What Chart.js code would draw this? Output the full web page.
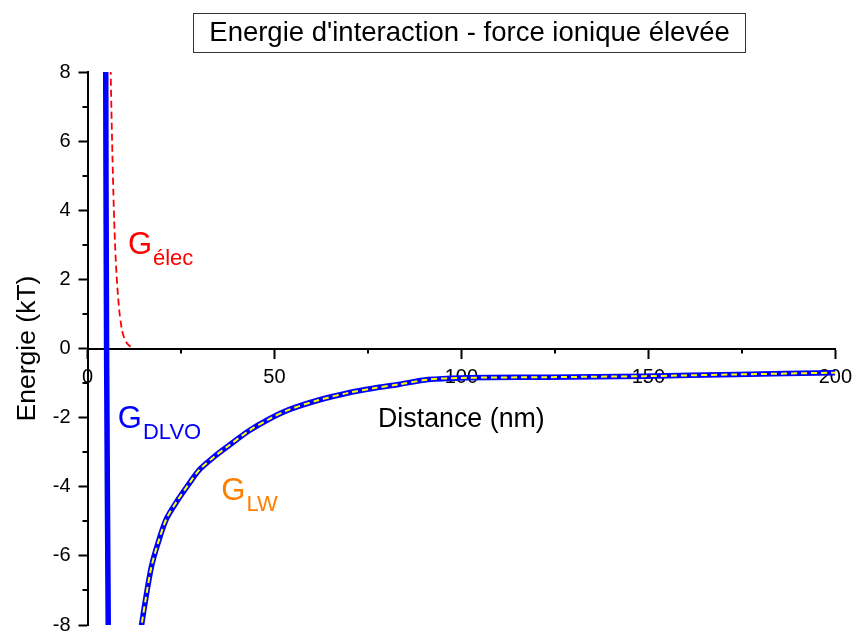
<!DOCTYPE html>
<html>
<head>
<meta charset="utf-8">
<script src="https://cdn.jsdelivr.net/npm/chart.js@4"></script>
<style>
  html, body { margin: 0; padding: 0; background: #fff; }
</style>
</head>
<body>
<canvas id="chart" width="860" height="635"></canvas>
<script>
const FONT = '"Liberation Sans", Arial, sans-serif';

// G_elec, red dashed
const elecDistance = [6.0, 6.2, 6.6, 7.05, 7.45, 7.85, 8.25, 8.65, 9.3, 10.0, 11.0, 12.1];
const elecEnergy   = [9.4, 8.0, 5.9, 4.0, 2.8, 2.0, 1.4, 0.95, 0.5, 0.26, 0.1, 0.03];

// G_DLVO, repulsive wall (the minimum itself is off the chart)
const wallDistance = [4.85, 5.1, 5.6];
const wallEnergy   = [9.0, 0.0, -9.0];

// G_DLVO, attractive branch after the minimum
const dlvoDistance = [13.9, 14.4, 15.6, 17.1, 18.8, 21.1, 24.1, 27.3, 29.9, 33.9, 37.9, 43.2, 48.6, 53.9,
                      61.9, 69.9, 76.5, 83.2, 91.1, 99.9, 123.1, 148.9, 173.6, 200];
const dlvoEnergy   = [-8.5, -8.05, -7.22, -6.31, -5.65, -4.93, -4.39, -3.89, -3.51, -3.13, -2.80, -2.38, -2.04, -1.77,
                      -1.49, -1.28, -1.15, -1.04, -0.90, -0.85, -0.83, -0.80, -0.75, -0.70];

// G_LW, lies on top of the DLVO branch
const lwDistance = [13.9, 14.4, 15.6, 17.1, 18.8, 21.1, 24.1, 27.3, 29.9, 33.9, 37.9, 43.2, 48.6, 53.9,
                    61.9, 69.9, 76.5, 83.2, 91.1, 99.9, 123.1, 148.9, 173.6, 200];
const lwEnergy   = [-8.5, -8.05, -7.22, -6.31, -5.65, -4.93, -4.39, -3.89, -3.51, -3.13, -2.80, -2.38, -2.04, -1.77,
                    -1.49, -1.28, -1.15, -1.04, -0.90, -0.85, -0.83, -0.80, -0.75, -0.70];

const xTicks = [0, 50, 100, 150, 200];
const yTicks = [-8, -6, -4, -2, 0, 2, 4, 6, 8];
const xMinor = [25, 75, 125, 175];
const yMinor = [-7, -5, -3, -1, 1, 3, 5, 7];

const pts = (xs, ys) => xs.map((x, i) => ({ x: x, y: ys[i] }));

const dlvoData = pts(wallDistance, wallEnergy)
  .concat([{ x: 9, y: null }])
  .concat(pts(dlvoDistance, dlvoEnergy));

// curve names, anchored in data units
const curveLabels = [
  { main: 'G', sub: '\u00e9lec', x: 10.8, y: 2.72, color: '#ff0000' },
  { main: 'G', sub: 'DLVO', x: 8.1, y: -2.29, color: '#0000ff' },
  { main: 'G', sub: 'LW', x: 35.8, y: -4.38, color: '#ff8000' }
];

const titleBox = {
  id: 'titleBox',
  afterDraw(chart) {
    const ctx = chart.ctx;
    ctx.save();
    ctx.strokeStyle = '#333';
    ctx.lineWidth = 1;
    ctx.strokeRect(193.5, 13.5, 552, 39);
    ctx.fillStyle = '#000';
    ctx.font = '27.5px ' + FONT;
    ctx.textAlign = 'center';
    ctx.textBaseline = 'middle';
    ctx.fillText("Energie d'interaction - force ionique \u00e9lev\u00e9e", 469.5, 33);
    ctx.restore();
  }
};

const minorTicks = {
  id: 'minorTicks',
  afterDraw(chart) {
    const { ctx, scales: { x, y } } = chart;
    const x0 = x.getPixelForValue(0);
    const y0 = y.getPixelForValue(0);
    ctx.save();
    ctx.strokeStyle = '#000';
    ctx.lineWidth = 2;
    ctx.beginPath();
    yMinor.forEach(v => {
      const p = Math.round(y.getPixelForValue(v));
      ctx.moveTo(x0 - 5, p); ctx.lineTo(x0, p);
    });
    xMinor.forEach(v => {
      const p = Math.round(x.getPixelForValue(v));
      ctx.moveTo(p, y0); ctx.lineTo(p, y0 + 5);
    });
    ctx.stroke();
    ctx.restore();
  }
};

const labelPlugin = {
  id: 'curveLabels',
  afterDatasetsDraw(chart) {
    const { ctx, scales: { x, y } } = chart;
    ctx.save();
    ctx.textBaseline = 'alphabetic';
    ctx.textAlign = 'left';
    curveLabels.forEach(l => {
      const px = x.getPixelForValue(l.x);
      const py = y.getPixelForValue(l.y);
      ctx.fillStyle = l.color;
      ctx.font = '31px ' + FONT;
      ctx.fillText(l.main, px, py);
      const w = ctx.measureText(l.main).width;
      ctx.font = '22px ' + FONT;
      ctx.fillText(l.sub, px + w + 1, py + 11);
    });
    ctx.restore();
  }
};

const axisGrid = { drawOnChartArea: false, drawTicks: true, tickLength: 9, tickWidth: 2, tickColor: '#000' };
const axisBorder = { display: true, color: '#000', width: 2 };

new Chart(document.getElementById('chart'), {
  type: 'line',
  data: {
    datasets: [
      {
        label: 'G LW',
        data: pts(lwDistance, lwEnergy),
        borderColor: '#ffff00',
        borderWidth: 2,
        borderDash: [6, 4],
        pointRadius: 0,
        tension: 0.3,
        clip: 0
      },
      {
        label: 'G elec',
        data: pts(elecDistance, elecEnergy),
        borderColor: '#ff0000',
        borderWidth: 1.8,
        borderDash: [7, 4],
        pointRadius: 0,
        cubicInterpolationMode: 'monotone',
        clip: 0
      },
      {
        label: 'G DLVO',
        data: dlvoData,
        borderColor: '#0000ff',
        borderWidth: 5.5,
        pointRadius: 0,
        tension: 0.3,
        spanGaps: false,
        clip: 0
      }
    ]
  },
  options: {
    responsive: false,
    animation: false,
    layout: { padding: { top: 72, right: 21, bottom: 10, left: 0 } },
    plugins: { legend: { display: false }, tooltip: { enabled: false } },
    scales: {
      x: {
        type: 'linear',
        min: 0,
        max: 200,
        position: { y: 0 },
        afterBuildTicks: s => { s.ticks = xTicks.map(v => ({ value: v })); },
        ticks: { padding: 8, color: '#000', font: { family: FONT, size: 20 }, maxRotation: 0 },
        grid: axisGrid,
        border: axisBorder,
        title: {
          display: true,
          text: 'Distance (nm)',
          color: '#000',
          font: { family: FONT, size: 26.8 },
          padding: { top: 6.5, bottom: 0 }
        }
      },
      y: {
        type: 'linear',
        min: -8,
        max: 8,
        position: 'left',
        afterFit: s => { s.width = 87.5; },
        afterBuildTicks: s => { s.ticks = yTicks.map(v => ({ value: v })); },
        ticks: { padding: 8, color: '#000', font: { family: FONT, size: 20, lineHeight: 0.1 } },
        grid: axisGrid,
        border: axisBorder,
        title: {
          display: true,
          text: 'Energie (kT)',
          color: '#000',
          font: { family: FONT, size: 26.5 },
          padding: { top: 12, bottom: 0 }
        }
      }
    }
  },
  plugins: [titleBox, minorTicks, labelPlugin]
});
</script>
</body>
</html>
